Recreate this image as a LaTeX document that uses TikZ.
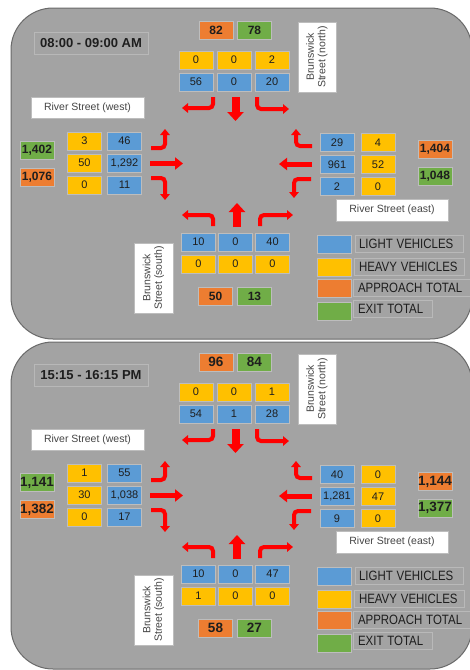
\documentclass[tikz,border=0pt]{standalone}
\usepackage{fontspec}
\setmainfont{Liberation Sans}
\usetikzlibrary{arrows.meta}
\definecolor{panelbg}{HTML}{A3A3A3}
\definecolor{panelline}{HTML}{6A6A6A}
\definecolor{cellline}{HTML}{BDBDBD}
\definecolor{lvblue}{HTML}{5B9BD5}
\definecolor{hvyellow}{HTML}{FFC000}
\definecolor{apporange}{HTML}{ED7D31}
\definecolor{exitgreen}{HTML}{70AD47}
\definecolor{numtext}{HTML}{1E1E1E}
\definecolor{labtext}{HTML}{454545}
\definecolor{arrred}{HTML}{FF0000}
\def\totsize{12}
\newcommand\panelstatic[2]{%
  \node[timebox] (#1-time) at (91,43) {#2};
  \node[streetbox, minimum width=113pt, minimum height=21pt] (#1-rw) at (87.5,107.5) {River Street (west)};
  \node[streetbox, minimum width=112pt, minimum height=22pt] (#1-re) at (392,210) {River Street (east)};
  \node[streetbox, rotate=90, minimum width=70pt, minimum height=38pt, align=center] (#1-bn) at (317,57) {Brunswick\\Street (north)};
  \node[streetbox, rotate=90, minimum width=70pt, minimum height=39pt, align=center] (#1-bs) at (153.5,278) {Brunswick\\Street (south)};
  % north approach
  \draw[turn] (213,97) -- (213,108) -- (182,108);
  \draw[strv] (235.5,97) -- (235.5,121);
  \draw[turn] (257,97) -- (257,109) -- (289,109);
  % west approach
  \draw[turn] (151,148) -- (165,148) -- (165,129);
  \draw[strh] (150,163.5) -- (183,163.5);
  \draw[turn] (151,178) -- (165,178) -- (165,200);
  % east approach
  \draw[turn] (312,146) -- (296,146) -- (296,129);
  \draw[strh] (312,164) -- (279,164);
  \draw[turn] (311,179) -- (294,179) -- (294,198);
  % south approach
  \draw[turn] (213,226) -- (213,215) -- (182,215);
  \draw[strv] (237,227) -- (237,203);
  \draw[turn] (260,226) -- (260,215) -- (293,215);
  % legend
  \node[sw, fill=lvblue] (#1-sw1) at (334,244) {};
  \node[sw, fill=hvyellow] (#1-sw2) at (334,267) {};
  \node[sw, fill=apporange] (#1-sw3) at (334,288.5) {};
  \node[sw, fill=exitgreen] (#1-sw4) at (334,311.5) {};
  \node[legbox, text width=100pt, inner xsep=4pt] (#1-lg1) at (409,244) {\scalebox{0.85}[1]{LIGHT VEHICLES}};
  \node[legbox, text width=100pt, inner xsep=5pt] (#1-lg2) at (409,267) {\scalebox{0.85}[1]{HEAVY VEHICLES}};
  \node[legbox, text width=107pt, inner xsep=5pt] (#1-lg3) at (411.5,288) {\scalebox{0.85}[1]{APPROACH TOTAL}};
  \node[legbox, text width=69pt, inner xsep=5pt] (#1-lg4) at (392.5,309) {\scalebox{0.85}[1]{EXIT TOTAL}};
}
\begin{document}
\begin{tikzpicture}[x=1pt,y=-1pt,
  cell/.style={draw=cellline, line width=0.6pt, minimum width=34pt, minimum height=18pt, inner sep=0pt, text=numtext, font=\fontsize{11}{13}\selectfont},
  lv/.style={cell, fill=lvblue},
  hv/.style={cell, fill=hvyellow},
  app/.style={cell, fill=apporange, font=\bfseries\fontsize{\totsize}{\totsize}\selectfont},
  ext/.style={cell, fill=exitgreen, font=\bfseries\fontsize{\totsize}{\totsize}\selectfont},
  sw/.style={draw=cellline, line width=0.6pt, minimum width=34pt, minimum height=18pt, inner sep=0pt},
  legbox/.style={draw=cellline!85!panelbg, fill=panelbg, line width=0.6pt, minimum height=17pt, inner ysep=0pt, align=left, text=numtext, font=\fontsize{13.5}{15}\selectfont},
  timebox/.style={draw=cellline!80!panelbg, fill=panelbg, line width=0.6pt, minimum width=114pt, minimum height=22pt, inner sep=0pt, text=numtext, font=\bfseries\fontsize{13}{15}\selectfont},
  streetbox/.style={draw=cellline, fill=white, line width=0.6pt, inner sep=0pt, text=labtext, font=\fontsize{10.5}{11.5}\selectfont},
  panel/.style={draw=panelline, fill=panelbg, line width=1pt, rounded corners=42pt},
  turn/.style={draw=arrred, line width=4pt, rounded corners=4pt, -{Triangle[length=6pt,width=9.5pt]}},
  strh/.style={draw=arrred, line width=5pt, -{Triangle[length=8pt,width=12pt]}},
  strv/.style={draw=arrred, line width=8pt, -{Triangle[length=9pt,width=16pt]}}
]
\useasboundingbox (0,0) rectangle (470,670);
\fill[white] (0,0) rectangle (470,670);
\path[panel] (11,8) rectangle (472,339);
\path[panel] (11,342) rectangle (472,669);
% ---------- panel 1 ----------
\begin{scope}
  \def\totsize{12}
  \panelstatic{a}{08:00 - 09:00 AM}
  \node[app] (a-nap) at (216,30) {82};
  \node[ext] (a-nex) at (254.5,30) {78};
  \node[hv] (a-nh1) at (196,60) {0};
  \node[hv] (a-nh2) at (234,60) {0};
  \node[hv] (a-nh3) at (272,60) {2};
  \node[lv] (a-nl1) at (196,82) {56};
  \node[lv] (a-nl2) at (234,82) {0};
  \node[lv] (a-nl3) at (272,82) {20};
  \node[hv] (a-wh1) at (84.5,141) {3};
  \node[lv] (a-wl1) at (124.5,141) {46};
  \node[hv] (a-wh2) at (84.5,163) {50};
  \node[lv] (a-wl2) at (124.5,163) {1,292};
  \node[hv] (a-wh3) at (84.5,185) {0};
  \node[lv] (a-wl3) at (124.5,185) {11};
  \node[ext] (a-wex) at (37,150.5) {1,402};
  \node[app] (a-wap) at (37,177.5) {1,076};
  \node[lv] (a-el1) at (337,142.5) {29};
  \node[hv] (a-eh1) at (378,142.5) {4};
  \node[lv] (a-el2) at (337,164.5) {961};
  \node[hv] (a-eh2) at (378,164.5) {52};
  \node[lv] (a-el3) at (337,186.5) {2};
  \node[hv] (a-eh3) at (378,186.5) {0};
  \node[app] (a-eap) at (435,149.5) {1,404};
  \node[ext] (a-eex) at (435,176) {1,048};
  \node[lv] (a-sl1) at (198.5,242) {10};
  \node[lv] (a-sl2) at (235.5,242) {0};
  \node[lv] (a-sl3) at (272.5,242) {40};
  \node[hv] (a-sh1) at (198.5,264) {0};
  \node[hv] (a-sh2) at (235.5,264) {0};
  \node[hv] (a-sh3) at (272.5,264) {0};
  \node[app] (a-sap) at (215.5,296) {50};
  \node[ext] (a-sex) at (254.5,296) {13};
\end{scope}
% ---------- panel 2 ----------
\begin{scope}[shift={(0,332)}]
  \def\totsize{13.5}
  \panelstatic{b}{15:15 - 16:15 PM}
  \node[app] (b-nap) at (216,30) {96};
  \node[ext] (b-nex) at (254.5,30) {84};
  \node[hv] (b-nh1) at (196,60) {0};
  \node[hv] (b-nh2) at (234,60) {0};
  \node[hv] (b-nh3) at (272,60) {1};
  \node[lv] (b-nl1) at (196,82) {54};
  \node[lv] (b-nl2) at (234,82) {1};
  \node[lv] (b-nl3) at (272,82) {28};
  \node[hv] (b-wh1) at (84.5,141) {1};
  \node[lv] (b-wl1) at (124.5,141) {55};
  \node[hv] (b-wh2) at (84.5,163) {30};
  \node[lv] (b-wl2) at (124.5,163) {1,038};
  \node[hv] (b-wh3) at (84.5,185) {0};
  \node[lv] (b-wl3) at (124.5,185) {17};
  \node[ext] (b-wex) at (37,150.5) {1,141};
  \node[app] (b-wap) at (37,177.5) {1,382};
  \node[lv] (b-el1) at (337,142.5) {40};
  \node[hv] (b-eh1) at (378,142.5) {0};
  \node[lv] (b-el2) at (337,164.5) {1,281};
  \node[hv] (b-eh2) at (378,164.5) {47};
  \node[lv] (b-el3) at (337,186.5) {9};
  \node[hv] (b-eh3) at (378,186.5) {0};
  \node[app] (b-eap) at (435,149.5) {1,144};
  \node[ext] (b-eex) at (435,176) {1,377};
  \node[lv] (b-sl1) at (198.5,242) {10};
  \node[lv] (b-sl2) at (235.5,242) {0};
  \node[lv] (b-sl3) at (272.5,242) {47};
  \node[hv] (b-sh1) at (198.5,264) {1};
  \node[hv] (b-sh2) at (235.5,264) {0};
  \node[hv] (b-sh3) at (272.5,264) {0};
  \node[app] (b-sap) at (215.5,296) {58};
  \node[ext] (b-sex) at (254.5,296) {27};
\end{scope}
\end{tikzpicture}
\end{document}
